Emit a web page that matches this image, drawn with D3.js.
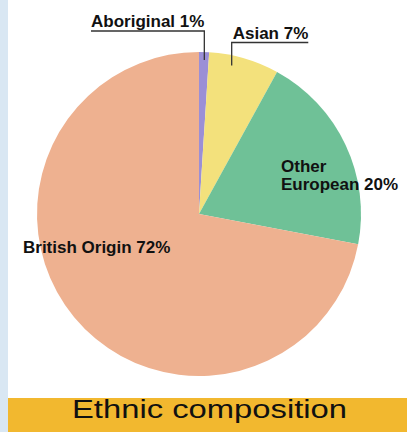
<!DOCTYPE html>
<html>
<head>
<meta charset="utf-8">
<script src="https://cdn.jsdelivr.net/npm/d3@7/dist/d3.min.js"></script>
<style>
  html, body { margin: 0; padding: 0; background: #ffffff; }
  svg { display: block; }
  text { font-family: "Liberation Sans", Arial, Helvetica, sans-serif; }
</style>
</head>
<body>
<svg id="chart" width="407" height="432"></svg>
<script>
// Ethnic groups, their shares (%) and fill colours, clockwise from 12 o'clock
const groups  = ["Aboriginal", "Asian", "Other European", "British Origin"];
const shares  = [1, 7, 20, 72];
const colours = ["#9b8fd6", "#f3e17c", "#6fc197", "#eeb190"];
const title   = "Ethnic composition";

const W = 407, H = 432;
const cx = 199, cy = 214, R = 162;

const svg = d3.select("#chart");

// page frame: pale blue strip on the left, white panel, golden title bar
svg.append("rect").attr("x", 0).attr("y", 0).attr("width", W).attr("height", H).attr("fill", "#ffffff");
svg.append("rect").attr("x", 0).attr("y", 0).attr("width", 8).attr("height", H).attr("fill", "#d9e7f3");
svg.append("rect").attr("x", 8).attr("y", 398).attr("width", W - 8).attr("height", H - 398).attr("fill", "#f2b82f");

const data = groups.map((g, i) => ({ group: g, share: shares[i], colour: colours[i] }));

const pie = d3.pie().sort(null).value(d => d.share).startAngle(0).endAngle(2 * Math.PI);
const arcs = pie(data);
const arc = d3.arc().innerRadius(0).outerRadius(R);

const g = svg.append("g").attr("transform", `translate(${cx},${cy})`);
g.selectAll("path")
  .data(arcs)
  .join("path")
  .attr("d", arc)
  .attr("fill", d => d.data.colour);

// point inside a slice at a fraction of its sweep and a given radius (page coords)
function inside(a, frac, r) {
  const ang = a.startAngle + (a.endAngle - a.startAngle) * frac;
  return [cx + r * Math.sin(ang), cy - r * Math.cos(ang)];
}

const fs = 17;
const label = (x, y, str, size) => svg.append("text")
  .attr("x", x).attr("y", y)
  .attr("font-size", size || fs)
  .attr("font-weight", "bold")
  .attr("fill", "#111")
  .text(str);

// Aboriginal: label above-left, underline and drop line into the thin slice
{
  const a = arcs[0];
  label(91, 27, `${a.data.group} ${a.data.share}%`);
  const [px, py] = inside(a, 0.55, 154);
  svg.append("path")
    .attr("d", `M91,31H${px}V${py}`)
    .attr("fill", "none").attr("stroke", "#333").attr("stroke-width", 1.3);
}

// Asian: label to the right, underline and drop line into the slice
{
  const a = arcs[1];
  const [px, py] = inside(a, 0.35, 152);
  const t = label(px + 1, 39, `${a.data.group} ${a.data.share}%`);
  const w = t.node().getComputedTextLength();
  svg.append("path")
    .attr("d", `M${px + 1 + w},42.5H${px}V${py}`)
    .attr("fill", "none").attr("stroke", "#333").attr("stroke-width", 1.3);
}

// Other European: two lines inside the green slice
{
  const a = arcs[2];
  label(281, 172, "Other");
  label(281, 190, `European ${a.data.share}%`);
}

// British Origin: inside the large slice on the left
{
  const a = arcs[3];
  label(23, 253, `${a.data.group} ${a.data.share}%`);
}

// title in the bar
svg.append("text")
  .attr("x", 72).attr("y", 418)
  .attr("font-size", 26)
  .attr("fill", "#111")
  .attr("textLength", 275)
  .attr("lengthAdjust", "spacingAndGlyphs")
  .text(title);
</script>
</body>
</html>
